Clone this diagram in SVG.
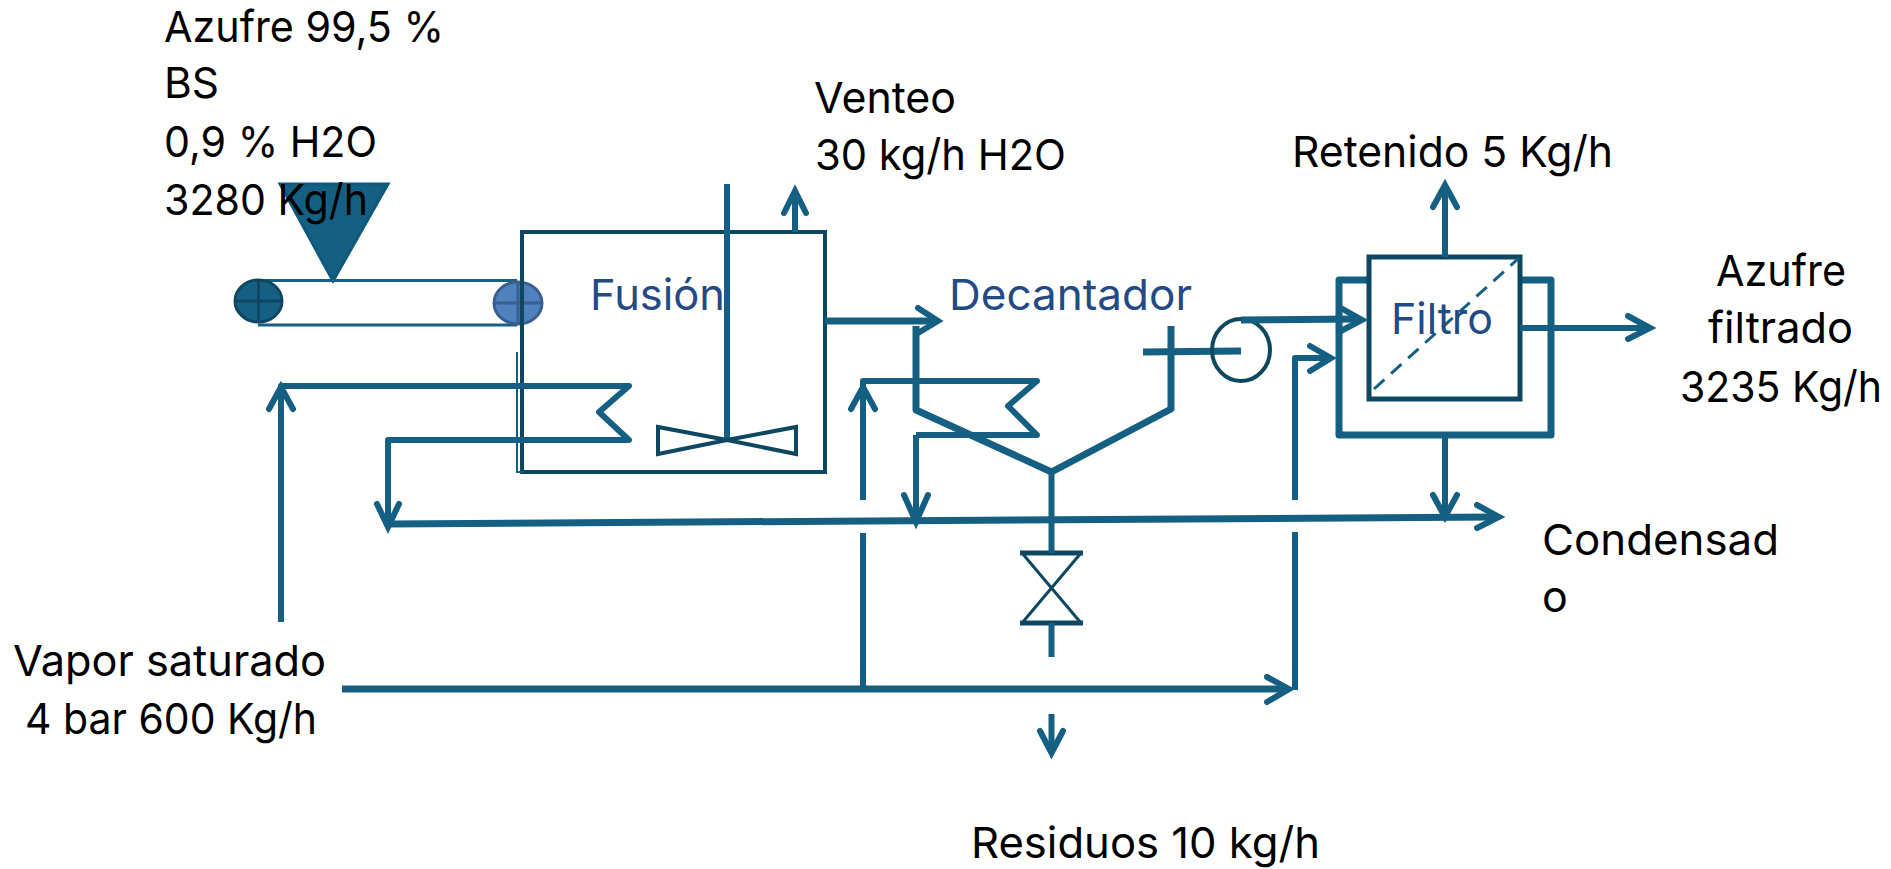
<svg xmlns="http://www.w3.org/2000/svg" width="1891" height="869" viewBox="0 0 1891 869">
<style>
text{font-family:"Inter","Open Sans",sans-serif;font-size:43px}
.t{fill:#000}
.b{fill:#234a85}
.l{fill:none;stroke:#156082;stroke-width:6;stroke-linejoin:round}
.m{fill:none;stroke:#156082;stroke-width:7;stroke-linejoin:round}
.d{fill:none;stroke:#0f4761;stroke-width:4}
.h{fill:none;stroke:#156082;stroke-width:6;stroke-linecap:round;stroke-linejoin:miter}
</style>
<rect width="1891" height="869" fill="#fff"/>
<g id="hopper">
<polygon points="280,184 388,184 333,281" fill="#156082" stroke="#0f5a7c" stroke-width="3"/>
</g>
<g id="conveyor">
<path d="M258 280.500H517M258 325H517" fill="none" stroke="#156082" stroke-width="3"/>
<ellipse cx="258.500" cy="301" rx="23.500" ry="21" fill="#156082" stroke="#0f4761" stroke-width="3"/>
<path d="M258.500 280V322M235 301H282" fill="none" stroke="#0f4761" stroke-width="3"/>
<ellipse cx="518" cy="303" rx="24" ry="21" fill="#4f81bd" stroke="#3a5f8f" stroke-width="3"/>
<path d="M518 282V324M494 303H542" fill="none" stroke="#3a5f8f" stroke-width="3"/>
</g>
<g id="fusion-tank">
<rect x="522" y="232" width="303" height="240" fill="none" stroke="#0f4761" stroke-width="4"/>
<path d="M517 352V472H522" fill="none" stroke="#156082" stroke-width="2"/>
<path d="M727 184V440" class="l"/>
<path d="M658 427V454L727 440 796 427V454L727 440Z" class="d"/>
<text class="b" x="590" y="310" textLength="135" lengthAdjust="spacingAndGlyphs">Fusión</text>
</g>
<g id="decanter">
<path d="M916 326V410L1051.500 472 1171 409V326" class="m"/>
<path d="M1143 352L1241 351" class="m"/>
<text class="b" x="949" y="310" textLength="243" lengthAdjust="spacingAndGlyphs">Decantador</text>
</g>
<g id="pump">
<ellipse cx="1241" cy="350" rx="29" ry="31" fill="none" stroke="#0f4761" stroke-width="4"/>
</g>
<g id="filter">
<path d="M1369 280H1339V435H1551V280H1520" class="m"/>
<rect x="1369" y="257" width="151" height="142" fill="none" stroke="#0f4761" stroke-width="5"/>
<path d="M1374 389L1519 258" fill="none" stroke="#156082" stroke-width="3" stroke-dasharray="14 9"/>
<text class="b" x="1391" y="334" textLength="102" lengthAdjust="spacingAndGlyphs">Filtro</text>
</g>
<g id="valve">
<path d="M1020 553H1083M1020 623H1083" fill="none" stroke="#0f4761" stroke-width="5"/>
<path d="M1022 553L1081 623M1081 553L1022 623" fill="none" stroke="#0f4761" stroke-width="3"/>
</g>
<g id="connectors">
<path d="M795 232V195" class="l"/><path d="M784 213L795 191 806 213" class="h"/>
<path d="M281 622V386H629L599 412 629 440H388V525" class="l"/>
<path d="M269 409L281 387 293 409" class="h"/><path d="M377 504L388 527 399 504" class="h"/>
<path d="M388 524L1496 517" class="m"/><path d="M1477 505L1499 517 1477 528" class="h"/>
<path d="M825 321H935" class="m"/><path d="M918 308L938 321 918 333" class="h"/>
<path d="M916 435H1037L1008 406 1037 381H863V500M863 533V689" class="l"/>
<path d="M851 409L863 387 875 409" class="h"/>
<path d="M916 435V520" class="l"/><path d="M904 495L916 522 928 495" class="h"/>
<path d="M1051.500 472V553M1051.500 623V657M1051.500 714V750" class="l"/><path d="M1040 731L1051.500 753 1063 731" class="h"/>
<path d="M1241 320L1359 319" class="m"/><path d="M1339 307L1362 320 1339 332" class="h"/>
<path d="M1445 257V188" class="l"/><path d="M1433 207L1445 185 1457 207" class="h"/>
<path d="M1445 435V514" class="l"/><path d="M1433 495L1445 517 1457 495" class="h"/>
<path d="M1520 328H1647" class="l"/><path d="M1628 316L1650 328 1628 339" class="h"/>
<path d="M342 689H1286" class="m"/><path d="M1267 677L1289 689 1267 702" class="h"/>
<path d="M1295 690V532M1295 500V358H1327" class="l"/><path d="M1310 346L1331 358 1310 371" class="h"/>
</g>
<g id="labels">
<text class="t" x="164" y="42" textLength="280" lengthAdjust="spacingAndGlyphs">Azufre 99,5 %</text>
<text class="t" x="164" y="98" textLength="55" lengthAdjust="spacingAndGlyphs">BS</text>
<text class="t" x="164" y="157" textLength="213" lengthAdjust="spacingAndGlyphs">0,9 % H2O</text>
<text class="t" x="164" y="215" textLength="204" lengthAdjust="spacingAndGlyphs">3280 Kg/h</text>
<text class="t" x="814" y="113" textLength="142" lengthAdjust="spacingAndGlyphs">Venteo</text>
<text class="t" x="815" y="170" textLength="251" lengthAdjust="spacingAndGlyphs">30 kg/h H2O</text>
<text class="t" x="1292" y="167" textLength="321" lengthAdjust="spacingAndGlyphs">Retenido 5 Kg/h</text>
<text class="t" x="1716" y="286" textLength="130" lengthAdjust="spacingAndGlyphs">Azufre</text>
<text class="t" x="1708" y="343" textLength="145" lengthAdjust="spacingAndGlyphs">filtrado</text>
<text class="t" x="1680" y="402" textLength="202" lengthAdjust="spacingAndGlyphs">3235 Kg/h</text>
<text class="t" x="1542" y="555" textLength="237" lengthAdjust="spacingAndGlyphs">Condensad</text>
<text class="t" x="1542" y="612">o</text>
<text class="t" x="13" y="676" textLength="313" lengthAdjust="spacingAndGlyphs">Vapor saturado</text>
<text class="t" x="25" y="734" textLength="292" lengthAdjust="spacingAndGlyphs">4 bar 600 Kg/h</text>
<text class="t" x="971" y="858" textLength="349" lengthAdjust="spacingAndGlyphs">Residuos 10 kg/h</text>
</g>
</svg>
